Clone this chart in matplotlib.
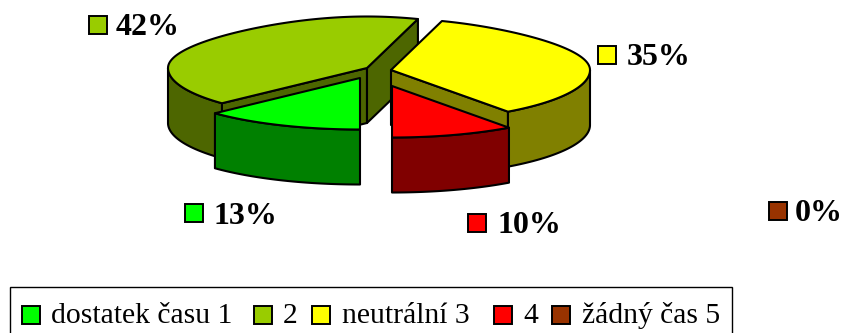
# exploded 3d pie of available time answers

import numpy as np
import matplotlib
matplotlib.use('Agg')
import matplotlib.pyplot as plt
from matplotlib.patches import Polygon, Rectangle

plt.rcParams['font.family'] = ['Liberation Serif', 'DejaVu Serif']

categories = ['dostatek času 1', '2', 'neutrální 3', '4', 'žádný čas 5']
shares = [13, 42, 35, 10, 0]
colors = ['#00ff00', '#99cc00', '#ffff00', '#ff0000', '#993300']
side_colors = ['#008000', '#4d6600', '#808000', '#800000', '#4d1a00']

# slice tips after the explode, the back slices go first when painting
tips = [(360, 78), (367, 68), (391, 70), (392, 86), (392, 86)]
paint_order = [1, 2, 0, 3]
start_angle = 180  # degrees clockwise from 12 o'clock
rx, ry, depth = 199, 51.5, 55
rear_shrink = 0.19  # perspective, the back of the pie is narrower
lw = 1.5

fig = plt.figure(figsize=(8.43, 3.33), dpi=100)
ax = fig.add_axes([0, 0, 1, 1])
ax.set_xlim(0, 843)
ax.set_ylim(333, 0)
ax.axis('off')


def rim(tip, angles):
    t = np.radians(angles)
    sx = rx * (1 - rear_shrink * np.clip(np.cos(t), 0, None) ** 2)
    return np.column_stack([tip[0] + sx * np.sin(t), tip[1] - ry * np.cos(t)])


def wall(points, c):
    lower = points[::-1] + [0, depth]
    ax.add_patch(Polygon(np.vstack([points, lower]), closed=True, fc=c,
                         ec='black', lw=lw, joinstyle='round'))


def cut_face(tip, angle, normal, c):
    # only faces turned towards the viewer get drawn
    if np.cos(np.radians(normal)) < -0.01:
        wall(np.vstack([[tip], rim(tip, [angle])]), c)


edges = start_angle + np.cumsum([0] + shares) * 3.6

for i in paint_order:
    a0, a1 = edges[i], edges[i + 1]
    tip = tips[i]
    cut_face(tip, a0, a0 - 90, side_colors[i])
    cut_face(tip, a1, a1 + 90, side_colors[i])
    # outer wall, front half of the ellipse only
    for k in (0, 360):
        lo, hi = max(a0, 90 + k), min(a1, 270 + k)
        if hi > lo:
            wall(rim(tip, np.linspace(lo, hi, 60)), side_colors[i])
    top = np.vstack([[tip], rim(tip, np.linspace(a0, a1, 120))])
    ax.add_patch(Polygon(top, closed=True, fc=colors[i], ec='black', lw=lw,
                         joinstyle='round'))


def swatch(x, y, size, c):
    ax.add_patch(Rectangle((x, y), size, size, fc=c, ec='black', lw=1.4))


# percentage labels
label_swatches = [(185, 204), (89, 16), (598, 46), (468, 214), (769, 202)]
label_text = [(213, 224), (116, 35), (627, 65), (497, 233), (795, 221)]
for i, v in enumerate(shares):
    swatch(*label_swatches[i], 18, colors[i])
    ax.text(*label_text[i], '%d%%' % v, fontsize=23, fontweight='bold',
            ha='left', va='baseline')

# legend, the box runs off the bottom edge
ax.add_patch(Rectangle((10, 287), 722, 50, fc='white', ec='black', lw=1.0))
legend_swatches = [22, 254, 312, 494, 552]
legend_text = [51, 283, 342, 523, 582]
for i, name in enumerate(categories):
    swatch(legend_swatches[i], 306, 18, colors[i])
    ax.text(legend_text[i], 323, name, fontsize=21.3, ha='left', va='baseline')

fig.savefig('out.png', dpi=100)
